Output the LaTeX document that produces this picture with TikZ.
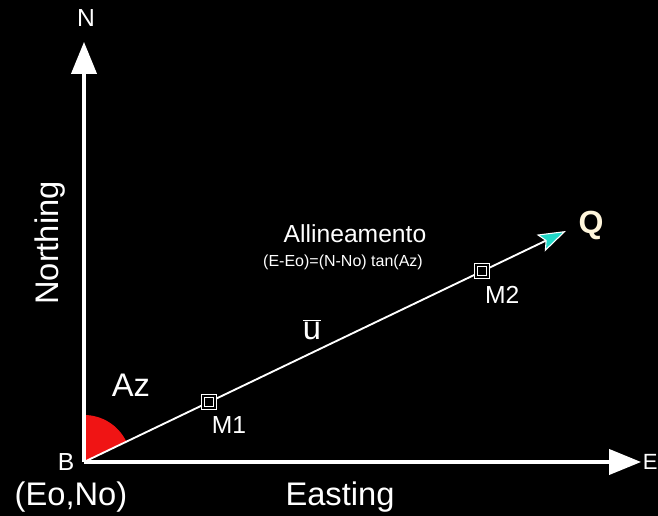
\documentclass[tikz,border=0pt]{standalone}
\usepackage{fontspec}
\setmainfont{Liberation Sans}
\usetikzlibrary{arrows.meta,positioning,calc}
\definecolor{paper}{HTML}{000000}
\definecolor{ink}{HTML}{FFFFFF}
\definecolor{cream}{HTML}{FFF6DC}
\definecolor{azfill}{HTML}{F01414}
\definecolor{tipcyan}{HTML}{22D8C8}
\tikzset{
  axis/.style={ink,line width=2.3pt,-{Triangle[length=24pt,width=19pt]}},
  aline/.style={ink,line width=1.4pt,
                -{Stealth[length=21pt,width=14pt,inset=4pt,fill=tipcyan,line width=0.8pt]}},
  mark box/.style={draw=ink,double=paper,double distance=1.2pt,
                   line width=0.9pt,fill=paper,minimum size=9pt,inner sep=0pt},
  lbl/.style={ink,inner sep=0pt,font=\fontsize{18.5}{20}\selectfont},
  biglbl/.style={ink,inner sep=0pt,font=\fontsize{24.5}{26}\selectfont},
}
\begin{document}
\begin{tikzpicture}[x=0.75pt,y=0.75pt]
  % picture in pixels, y measured up from the bottom edge
  \fill[paper](0,0)rectangle(658,516);
  \useasboundingbox(0,0)rectangle(658,516);

  \coordinate (B) at (84,54);
  \coordinate (Ntip) at (84,474);
  \coordinate (Etip) at (641,54);
  \coordinate (Qtip) at (566,285);

  % azimuth sector, from north to the alignment
  \fill[azfill](B)--++(90:47)arc[start angle=90,end angle=25.6,radius=47]--cycle;

  % axes
  \draw[axis](B)--(Ntip);
  \draw[axis](B)--(Etip);

  % alignment with the two points
  \draw[aline](B)--(Qtip)
    node[mark box,pos=0.259](m1){}
    node[mark box,pos=0.826](m2){};

  % labels
  \node[lbl] (nlbl) at (86,498) {N};
  \node[lbl,anchor=west,font=\fontsize{16.5}{18}\selectfont] (elbl) at (642.5,54) {E};
  \node[biglbl,rotate=90] (north) at (50,273) {Northing};
  \node[biglbl] (east) at (340,19) {Easting};
  \node[lbl] (blbl) at (66,54) {B};
  \node[biglbl] (orig) at (71,19) {(Eo,No)};
  \node[biglbl] (az) at (131,131) {Az};
  \node[lbl,below right=6pt and 2pt of m1.south] (m1lbl) {M1};
  \node[lbl,below right=6pt and 2pt of m2.south] (m2lbl) {M2};
  \node[biglbl] (u) at (312,186) {$\overline{\mathrm{u}}$};
  \node[ink,inner sep=0pt,font=\fontsize{18.5}{20}\selectfont] (alli) at (355,282) {Allineamento};
  \node[ink,inner sep=0pt,font=\fontsize{12}{13}\selectfont] (form) at (343,254)
    {(E-Eo)=(N-No) tan(Az)};
  \node[cream,inner sep=0pt,font=\bfseries\fontsize{24}{26}\selectfont] (q) at (591,291) {Q};
\end{tikzpicture}
\end{document}
